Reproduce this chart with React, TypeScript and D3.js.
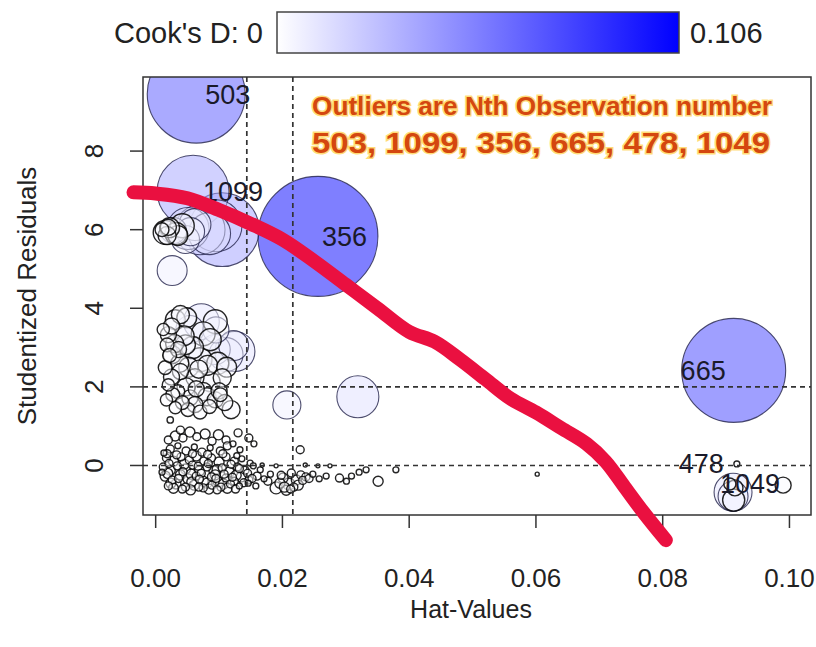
import React from "react";
import * as d3 from "d3";

const WIDTH = 816;
const HEIGHT = 647;

// labelled observations
const outlierIds = ["503", "1099", "356", "665", "478", "1049"];
const outlierHat = [0.0064, 0.0059, 0.0256, 0.0912, 0.0917, 0.0906];
const outlierRes = [9.45, 6.98, 5.83, 2.42, 0.04, -0.47];
const outlierCook = [0.0707, 0.038, 0.106, 0.0796, 0.00026, 0.00106];

// cluster around residual 6
const topHat = [
  0.0015, 0.0028, 0.002, 0.0035, 0.0051, 0.007, 0.0105, 0.0047, 0.0062, 0.0026, 0.001,
  0.0022, 0.0032, 0.0042, 0.0055, 0.0085, 0.0095, 0.0018,
];
const topRes = [
  5.93, 5.98, 6.06, 5.85, 6.03, 6.0, 6.0, 5.75, 6.13, 4.96, 6.0,
  6.05, 5.9, 6.1, 5.95, 5.9, 6.1, 5.85,
];
const topCook = [
  0.0042, 0.005, 0.0019, 0.0029, 0.013, 0.0184, 0.04, 0.0058, 0.0075, 0.0066, 0.0014,
  0.0029, 0.0036, 0.0042, 0.0058, 0.013, 0.02, 0.0024,
];

// cluster between residual 1 and 4
const midHat = [
  0.0072, 0.0125, 0.0111, 0.0094, 0.0054, 0.0031, 0.002, 0.0047, 0.0026, 0.007, 0.0086, 0.0015,
  0.0039, 0.0062, 0.0086, 0.0105, 0.002, 0.0035, 0.0054, 0.0075, 0.0094, 0.0017, 0.0031, 0.0051,
  0.007, 0.0119, 0.0023, 0.0012, 0.0039, 0.0094, 0.0049, 0.0018, 0.0102, 0.0207, 0.0319,
  0.0025, 0.0045, 0.0058, 0.003, 0.0075, 0.0095, 0.0038, 0.0052, 0.0068, 0.0082, 0.0098, 0.0112,
  0.0025, 0.0048, 0.0064, 0.0081, 0.01, 0.0027, 0.0042, 0.0062, 0.0085, 0.0109, 0.0022, 0.0036, 0.0123,
];
const midRes = [
  3.66, 2.9, 2.82, 2.95, 3.46, 3.71, 3.33, 3.07, 2.82, 2.69, 3.2, 2.49,
  2.39, 2.23, 2.13, 2.23, 2.05, 1.88, 1.72, 1.88, 1.67, 1.67, 1.47, 1.42,
  1.36, 1.42, 1.16, 3.46, 3.84, 3.66, 3.76, 3.07, 1.8, 1.54, 1.75,
  3.55, 3.3, 3.0, 3.1, 3.35, 3.45, 2.6, 2.5, 2.45, 2.55, 2.6, 2.5,
  2.25, 2.0, 1.95, 1.75, 1.9, 1.8, 1.6, 1.55, 1.5, 1.6, 2.8, 2.95, 3.05,
];
const midCook = [
  0.0095, 0.0118, 0.0085, 0.0066, 0.0058, 0.0029, 0.0019, 0.0029, 0.0024, 0.0042, 0.0036, 0.0014,
  0.0019, 0.0024, 0.0029, 0.0024, 0.0011, 0.0014, 0.0019, 0.0024, 0.0019, 0.0011, 0.0011, 0.0014,
  0.0014, 0.0024, 0.0003, 0.0011, 0.0024, 0.0042, 0.0029, 0.0014, 0.0014, 0.0058, 0.013,
  0.0019, 0.0029, 0.0036, 0.0024, 0.0042, 0.005, 0.0024, 0.0029, 0.0024, 0.0029, 0.0036, 0.0029,
  0.0019, 0.0024, 0.0019, 0.0024, 0.0019, 0.0014, 0.0014, 0.0019, 0.0014, 0.0019, 0.0014, 0.0019, 0.0066,
];

// band between residual 0.3 and 0.9
const upHat = [
  0.002, 0.0031, 0.0043, 0.0054, 0.0065, 0.0078, 0.0089, 0.0099, 0.0111, 0.0023, 0.0035, 0.0048,
  0.0061, 0.0073, 0.0086, 0.0102, 0.0113, 0.0122, 0.0013, 0.0133, 0.0147, 0.0155, 0.0228, 0.013, 0.0039,
];
const upRes = [
  0.65, 0.75, 0.7, 0.85, 0.73, 0.8, 0.62, 0.78, 0.65, 0.42, 0.5, 0.37,
  0.47, 0.34, 0.45, 0.37, 0.5, 0.55, 0.32, 0.4, 0.7, 0.55, 0.4, 0.83, 0.9,
];
const upCook = [
  0.00047, 0.00074, 0.00047, 0.00074, 0.00047, 0.00074, 0.00047, 0.00074, 0.00047, 0.00047, 0.00026, 0.00047,
  0.00026, 0.00047, 0.00026, 0.00047, 0.00047, 0.00026, 0.00026, 0.00026, 0.00047, 0.00026, 0.00047, 0.00047, 0.00047,
];

// dense band around residual 0
const lowHat = [
  0.0017, 0.0028, 0.004, 0.0053, 0.0064, 0.0076, 0.0088, 0.01, 0.0111, 0.0124, 0.0136, 0.0149,
  0.0012, 0.0023, 0.0034, 0.0047, 0.0058, 0.0069, 0.0081, 0.0092, 0.0105, 0.0116, 0.0129, 0.0141,
  0.0154, 0.0165, 0.0015, 0.0026, 0.0039, 0.0051, 0.0064, 0.0075, 0.0088, 0.0099, 0.0111, 0.0124,
  0.0135, 0.0147, 0.016, 0.0171, 0.0181, 0.002, 0.0032, 0.0047, 0.0061, 0.0075, 0.0089, 0.0103,
  0.0118, 0.0132, 0.0146, 0.001, 0.0158, 0.019, 0.0177, 0.0201, 0.021, 0.0214, 0.0222, 0.0229,
  0.0206, 0.0218, 0.0237, 0.0248, 0.0258, 0.0269, 0.029, 0.0301, 0.0309, 0.0321, 0.0332, 0.0351,
  0.0379, 0.0236, 0.0256, 0.0275, 0.0168, 0.019, 0.0602,
  0.0021, 0.0045, 0.0067, 0.0083, 0.0097, 0.0119, 0.0132, 0.0019, 0.0043, 0.0056, 0.0072, 0.0094,
  0.0108, 0.0127, 0.0145, 0.0024, 0.0036, 0.0057, 0.0069, 0.0081, 0.0095, 0.0107, 0.0121, 0.0139,
  0.0152, 0.0028, 0.0042, 0.0055, 0.0068, 0.0084, 0.0097, 0.0113, 0.0126, 0.0018, 0.0033, 0.0058,
  0.0082, 0.0106, 0.0128, 0.0196, 0.0203, 0.0213, 0.0225, 0.0232, 0.0242, 0.0198,
];
const lowRes = [
  0.19, 0.11, 0.22, 0.14, 0.24, 0.11, 0.19, 0.09, 0.22, 0.11, 0.17, 0.06,
  -0.04, -0.12, -0.01, -0.09, 0.01, -0.14, -0.04, -0.14, -0.06, -0.17, -0.04, -0.12,
  -0.01, -0.11, -0.27, -0.37, -0.24, -0.34, -0.27, -0.4, -0.29, -0.42, -0.32, -0.4,
  -0.29, -0.37, -0.27, -0.34, -0.22, -0.52, -0.47, -0.55, -0.5, -0.57, -0.5, -0.55,
  -0.47, -0.52, -0.45, -0.17, -0.52, -0.57, -0.4, -0.32, -0.47, -0.19, -0.37, -0.24,
  -0.63, -0.55, -0.29, -0.22, -0.34, -0.27, -0.32, -0.4, -0.27, -0.17, -0.11, -0.4,
  -0.11, 0.01, -0.01, -0.01, 0.01, -0.01, -0.22,
  0.05, 0.03, -0.02, 0.05, -0.1, 0.03, -0.08, -0.2, -0.16, -0.22, -0.2, -0.24,
  -0.22, -0.25, -0.2, -0.45, -0.33, -0.42, -0.35, -0.45, -0.33, -0.47, -0.3, -0.44,
  -0.33, -0.58, -0.6, -0.62, -0.55, -0.6, -0.62, -0.58, -0.6, 0.3, 0.27, 0.3,
  0.28, 0.3, 0.25, -0.45, -0.55, -0.6, -0.5, -0.38, -0.33, -0.25,
];
const lowCook = [
  0.00047, 0.00074, 0.00047, 0.00047, 0.00074, 0.00047, 0.00047, 0.00074, 0.00047, 0.00047, 0.00026, 0.00026,
  0.00047, 0.00074, 0.00047, 0.00074, 0.00047, 0.00074, 0.00047, 0.00074, 0.00047, 0.00074, 0.00047, 0.00047,
  0.00026, 0.00026, 0.00074, 0.00047, 0.00074, 0.00074, 0.00047, 0.00074, 0.00047, 0.00074, 0.00047, 0.00047,
  0.00074, 0.00047, 0.00047, 0.00026, 0.00026, 0.00047, 0.00074, 0.00047, 0.00074, 0.00047, 0.00047, 0.00047,
  0.00047, 0.00026, 0.00026, 0.00026, 0.00026, 0.00106, 0.00047, 0.00074, 0.00106, 0.00047, 0.00074, 0.00047,
  0.00074, 0.00047, 0.00047, 0.00026, 0.00026, 0.00026, 0.00047, 0.00026, 0.00026, 0.00026, 0.00026, 0.00074,
  0.00026, 0.00012, 0.00012, 0.00012, 0.00012, 0.00012, 0.00012,
  0.00047, 0.00074, 0.00047, 0.00047, 0.00074, 0.00047, 0.00047, 0.00074, 0.00047, 0.00074, 0.00047, 0.00074,
  0.00047, 0.00074, 0.00047, 0.00074, 0.00047, 0.00074, 0.00047, 0.00074, 0.00047, 0.00074, 0.00047, 0.00047,
  0.00047, 0.00074, 0.00047, 0.00074, 0.00047, 0.00074, 0.00047, 0.00074, 0.00047, 0.00047, 0.00047, 0.00047,
  0.00047, 0.00047, 0.00026, 0.00074, 0.00074, 0.00047, 0.00074, 0.00047, 0.00047, 0.00047,
];

// high-leverage group at the right
const rightHat = [0.0911, 0.0911, 0.0912, 0.0914, 0.099];
const rightRes = [-0.68, -0.78, -0.88, -0.57, -0.5];
const rightCook = [0.0106, 0.0066, 0.0036, 0.0019, 0.0019];

// smoothed trend (red)
const trendHat = [
  -0.0035, 0.0, 0.005, 0.01, 0.015, 0.02, 0.025, 0.03, 0.035, 0.04, 0.044,
  0.048, 0.052, 0.056, 0.06, 0.064, 0.068, 0.071, 0.074, 0.077, 0.0805,
];
const trendRes = [
  6.95, 6.92, 6.8, 6.5, 6.15, 5.75, 5.2, 4.6, 4.0, 3.4, 3.15,
  2.7, 2.2, 1.7, 1.35, 0.95, 0.55, 0.1, -0.55, -1.2, -1.9,
];

const xTicks = [0, 0.02, 0.04, 0.06, 0.08, 0.1];
const yTicks = [0, 2, 4, 6, 8];
const hatRefs = [0.01438, 0.02164];
const resRefs = [-2, 0, 2];
const cookMax = 0.106;

const labelDx: Record<string, number> = { "503": 9, "1099": 10, "356": 4, "665": -8, "478": -13, "1049": -10 };
const labelAnchor: Record<string, string> = { "503": "start", "1099": "start", "356": "start", "665": "end", "478": "end", "1049": "start" };

const FONT = "'Liberation Sans', Arial, sans-serif";

export default function App() {
  const left = 143, right = 811, top = 77, bottom = 515;
  const x = d3.scaleLinear().domain([-0.002, 0.1034]).range([left, right]);
  const y = d3.scaleLinear().domain([-1.26, 9.885]).range([bottom, top]);
  const r = d3.scaleSqrt().domain([0, cookMax]).range([0, 60]);
  const fillColor = d3.scaleLinear<string>().domain([0, cookMax]).range(["#ffffff", "#0000ff"]);

  const pts: { h: number; s: number; c: number }[] = [];
  const add = (h: number[], s: number[], c: number[]) => h.forEach((v, i) => pts.push({ h: v, s: s[i], c: c[i] }));
  add(outlierHat, outlierRes, outlierCook);
  add(topHat, topRes, topCook);
  add(midHat, midRes, midCook);
  add(upHat, upRes, upCook);
  add(lowHat, lowRes, lowCook);
  add(rightHat, rightRes, rightCook);
  pts.sort((a, b) => b.c - a.c);

  const trend = d3
    .line<number>()
    .x((d) => x(d))
    .y((_, i) => y(trendRes[i]))
    .curve(d3.curveCatmullRom);

  const legendX0 = 277, legendX1 = 679;

  return (
    <svg width={WIDTH} height={HEIGHT} style={{ position: "absolute", left: 0, top: 0, background: "#fff" }} fontFamily={FONT}>
      <defs>
        <clipPath id="plotclip">
          <rect x={left} y={top} width={right - left} height={bottom - top} />
        </clipPath>
        <linearGradient id="cookgrad" x1="0" x2="1" y1="0" y2="0">
          <stop offset="0%" stopColor={fillColor(0)} />
          <stop offset="100%" stopColor={fillColor(cookMax)} />
        </linearGradient>
      </defs>

      {/* legend */}
      <text x={263} y={43} fontSize={29} textAnchor="end" fill="#222">Cook's D: 0</text>
      <rect x={legendX0} y={12} width={legendX1 - legendX0} height={41} fill="url(#cookgrad)" stroke="#444" strokeWidth={1.5} />
      <text x={690} y={43} fontSize={29} fill="#222">{cookMax}</text>

      {/* circles */}
      <g clipPath="url(#plotclip)">
        {pts.map((p, i) => {
          const rad = Math.max(1.8, r(p.c));
          const small = rad < 12;
          return (
            <circle
              key={i}
              cx={x(p.h)}
              cy={y(p.s)}
              r={rad}
              fill={fillColor(p.c)}
              fillOpacity={0.5}
              stroke={small ? "#000" : "#22224a"}
              strokeOpacity={small ? 0.85 : 0.8}
              strokeWidth={small ? 1.4 : 1.1}
            />
          );
        })}
        {hatRefs.map((h) => (
          <line key={h} x1={x(h)} x2={x(h)} y1={top} y2={bottom} stroke="#333" strokeWidth={1.7} strokeDasharray="5,4" />
        ))}
        {resRefs.map((s) => (
          <line key={s} x1={left} x2={right} y1={y(s)} y2={y(s)} stroke="#333" strokeWidth={1.7} strokeDasharray="5,4" />
        ))}
      </g>

      {/* frame */}
      <rect x={left} y={top} width={right - left} height={bottom - top} fill="none" stroke="#333" strokeWidth={1.5} />

      {/* x axis */}
      {xTicks.map((t) => (
        <g key={t}>
          <line x1={x(t)} x2={x(t)} y1={bottom} y2={bottom + 13} stroke="#333" strokeWidth={1.5} />
          <text x={x(t)} y={587} fontSize={26} textAnchor="middle" fill="#222">{d3.format(".2f")(t)}</text>
        </g>
      ))}
      <text x={(left + right) / 2 - 6} y={618} fontSize={25} textAnchor="middle" fill="#222">Hat-Values</text>

      {/* y axis */}
      {yTicks.map((t) => (
        <g key={t}>
          <line x1={left} x2={left - 13} y1={y(t)} y2={y(t)} stroke="#333" strokeWidth={1.5} />
          <text transform={`translate(103,${y(t)}) rotate(-90)`} fontSize={26} textAnchor="middle" fill="#222">{t}</text>
        </g>
      ))}
      <text transform={`translate(36,${(top + bottom) / 2}) rotate(-90)`} fontSize={26} textAnchor="middle" fill="#222">Studentized Residuals</text>

      {/* point labels */}
      {outlierIds.map((id, i) => (
        <text
          key={id}
          x={x(outlierHat[i]) + labelDx[id]}
          y={y(outlierRes[i])}
          dy="0.35em"
          fontSize={27}
          textAnchor={labelAnchor[id]}
          fill="#1a1a2a"
        >
          {id}
        </text>
      ))}

      {/* trend */}
      <path d={trend(trendHat) || ""} fill="none" stroke="#EA1040" strokeWidth={14} strokeLinecap="round" strokeLinejoin="round" />

      {/* annotation */}
      <g fontWeight="bold" fill="#D4470F" stroke="#FFC51A" strokeWidth={3} strokeOpacity={0.6} style={{ paintOrder: "stroke" }}>
        <text x={312} y={115} fontSize={25} textLength={460} lengthAdjust="spacingAndGlyphs">Outliers are Nth Observation number</text>
        <text x={312} y={153} fontSize={30} textLength={458} lengthAdjust="spacingAndGlyphs">{outlierIds.join(", ")}</text>
      </g>
    </svg>
  );
}
